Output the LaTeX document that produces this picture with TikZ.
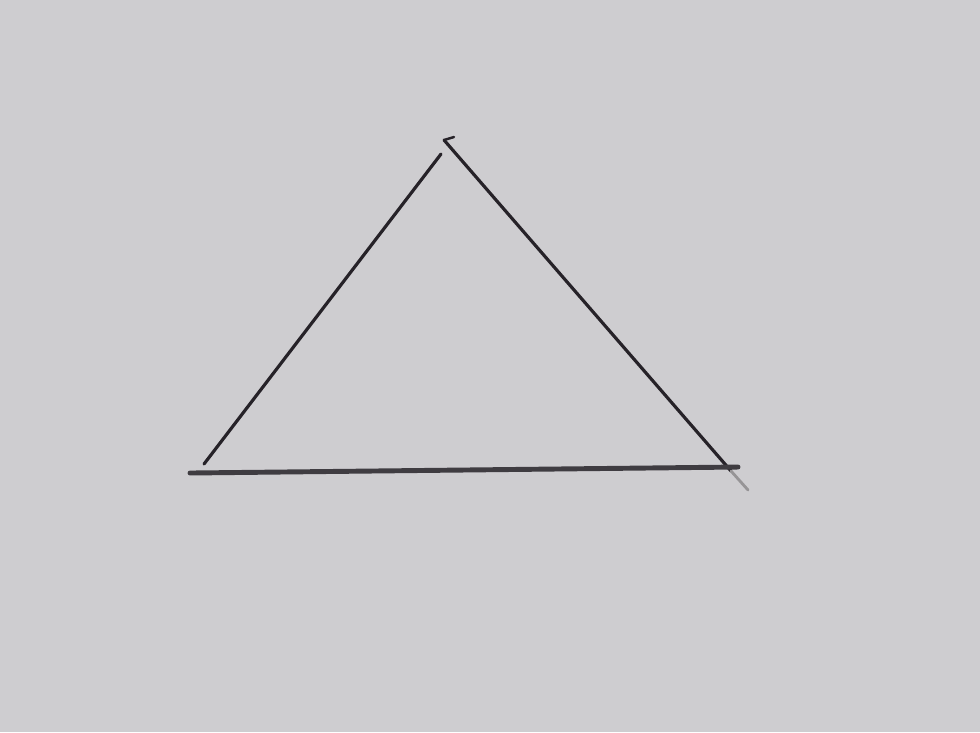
\documentclass[tikz,border=0pt]{standalone}
\usepackage{xcolor}
\usepackage{tikz}
\usetikzlibrary{positioning,calc}
\definecolor{paper}{RGB}{206,205,208}
\definecolor{lead}{RGB}{38,34,40}
\definecolor{faint}{RGB}{150,148,150}

\begin{document}
\begin{tikzpicture}[x=0.01cm,y=-0.01cm,
    pencil/.style={draw=lead, line width=0.9pt, line cap=round},
    faintline/.style={draw=faint, line width=0.8pt, line cap=round}]
    % Paper
    \fill[paper] (0,0) rectangle (980,732);
    \useasboundingbox (0,0) rectangle (980,732);

    % Corners
    \coordinate (topL) at (441,154);
    \coordinate (topR) at (444,140);
    \coordinate (tickE) at (454,137);
    \coordinate (leftB) at (204,464);
    \coordinate (baseL) at (190,473);
    \coordinate (baseR) at (738,467);
    \coordinate (rightB) at (731,471);
    \coordinate (rightE) at (748,490);

    % Sides
    \draw[pencil] (leftB) -- (topL);
    \draw[pencil] (topR) -- (rightB);
    \draw[faintline] (rightB) -- (rightE);
    \draw[pencil, line width=1.4pt, draw=lead!85!paper] (baseL) -- (baseR);
    \draw[pencil, line width=0.7pt] (topR) -- (tickE);
\end{tikzpicture}
\end{document}
